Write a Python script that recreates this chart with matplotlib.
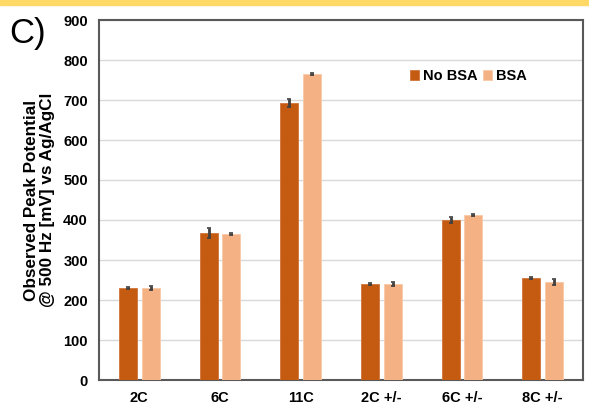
import matplotlib
matplotlib.use("Agg")
import matplotlib.pyplot as plt
import numpy as np

categories = ["2C", "6C", "11C", "2C +/-", "6C +/-", "8C +/-"]
no_bsa = [230, 367, 692, 240, 400, 255]
no_bsa_err = [2, 12, 10, 2, 8, 3]
bsa = [230, 365, 765, 240, 413, 245]
bsa_err = [4, 2, 2, 6, 3, 8]
series_names = ["No BSA", "BSA"]

plt.rcParams['font.family'] = ['Liberation Sans', 'DejaVu Sans']

fig = plt.figure(figsize=(5.89, 4.05), dpi=100)
ax = fig.add_axes([99/589, 1-380/405, (583-99)/589, 360/405])

x = np.arange(len(categories))
w = 0.223
gap = 0.06
ekw = dict(ecolor="#404040", elinewidth=2, capsize=1.5, capthick=1.2)
ax.bar(x - (w+gap)/2, no_bsa, w, yerr=no_bsa_err, color="#C55A11", edgecolor="#D0733A",
       linewidth=0.6, label=series_names[0], error_kw=ekw, zorder=3)
ax.bar(x + (w+gap)/2, bsa, w, yerr=bsa_err, color="#F4B183", edgecolor="#F8C9A6",
       linewidth=0.6, label=series_names[1], error_kw=ekw, zorder=3)

ax.set_xlim(-0.5, len(categories)-0.5)
ax.set_ylim(0, 900)
ax.set_yticks(range(0, 901, 100))
ax.set_xticks(x)
ax.set_xticklabels(categories, fontweight="bold", fontsize=10.5)
for t in ax.get_yticklabels():
    t.set_fontweight("bold")
    t.set_fontsize(10.5)
ax.tick_params(axis="both", length=0, pad=8)
ax.yaxis.grid(True, color="#D9D9D9", linewidth=1)
ax.set_axisbelow(True)
for s in ax.spines.values():
    s.set_color("#595959")
    s.set_linewidth(1.5)

ax.set_ylabel("Observed Peak Potential\n@ 500 Hz [mV] vs Ag/AgCl", fontweight="bold",
              fontsize=12.3, labelpad=6, linespacing=1.1)

leg = ax.legend(loc="upper left", bbox_to_anchor=(0.615, 0.9), ncol=2, frameon=False,
                handlelength=0.6, handleheight=0.6, handletextpad=0.3, columnspacing=0.4,
                prop=dict(weight="bold", size=10.5))

fig.text(9/589, 1-33/405, "C)", fontsize=25, va="center", ha="left")
fig.patches.append(plt.Rectangle((0, 1-5/405), 1, 5/405, transform=fig.transFigure,
                                 color="#FFD966", zorder=0))

fig.savefig("out.png", dpi=100)
